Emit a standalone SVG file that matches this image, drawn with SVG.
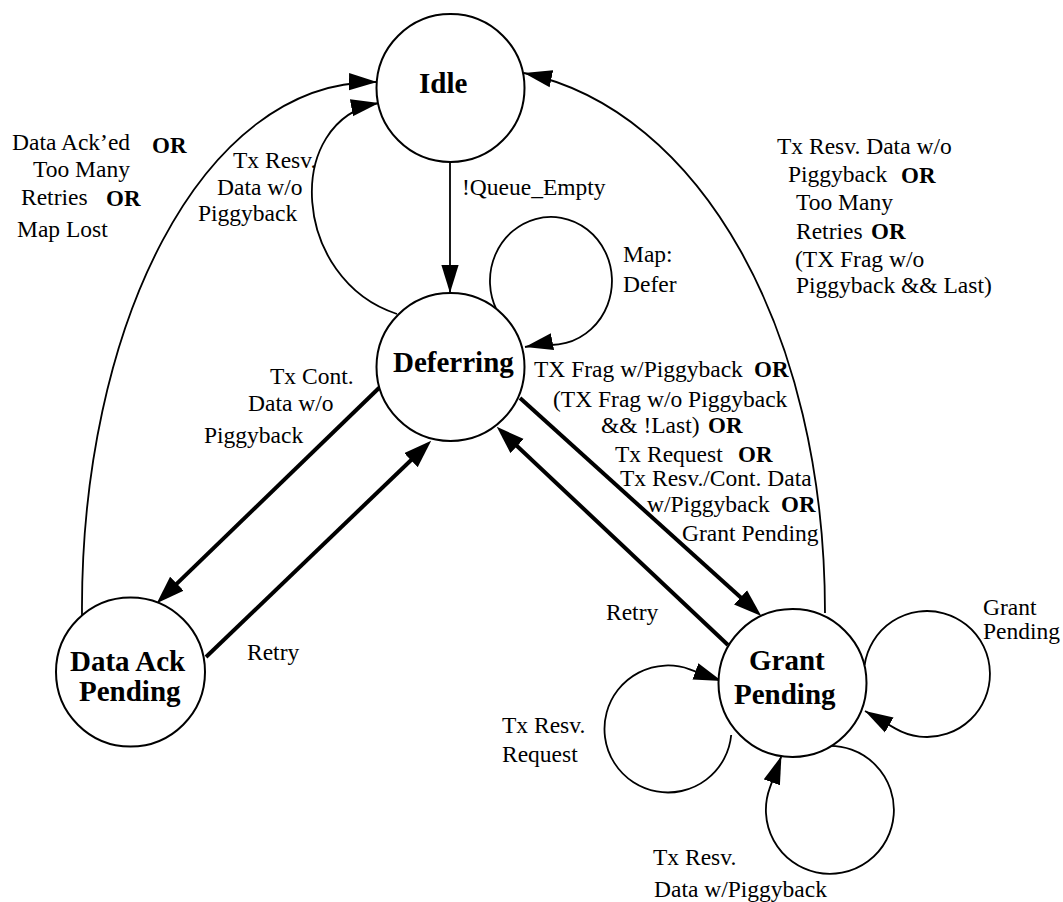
<svg xmlns="http://www.w3.org/2000/svg" width="1063" height="902" viewBox="0 0 1063 902">
<style>
.node{fill:#fff;stroke:#000;stroke-width:2}
.nl{font-family:"Liberation Serif","Times New Roman",serif;font-weight:bold;font-size:29px;fill:#000}
.lb{font-family:"Liberation Serif","Times New Roman",serif;font-size:23.5px;fill:#000}
.or{font-weight:bold;font-size:23px}
.thin{fill:none;stroke:#000;stroke-width:1.8;marker-end:url(#arr)}
.thick{fill:none;stroke:#000;stroke-width:4;marker-end:url(#arrT)}
</style>
<defs>
<marker id="arr" markerUnits="userSpaceOnUse" markerWidth="28" markerHeight="18" viewBox="0 0 26 16" refX="26" refY="8" orient="auto"><path d="M0,0 L26,8 L0,16 z" fill="#000"/></marker>
<marker id="arrT" markerUnits="userSpaceOnUse" markerWidth="28" markerHeight="20" viewBox="0 0 26 18" refX="17" refY="9" orient="auto"><path d="M0,0 L26,9 L0,18 z" fill="#000"/></marker>
</defs>
<rect width="1063" height="902" fill="#fff"/>
<g id="connectors">
<path class="thin" d="M82,615 C80,330 200,80 377,82"/>
<path class="thin" d="M397,314 C292,280 282,120 379,103"/>
<path class="thin" d="M825,613 C825,330 700,110 524,73"/>
<path class="thin" d="M450,162 L450,293"/>
<path class="thin" d="M496.6,310 A61,64 0 1 1 540.4,344 L525,347"/>
<path class="thick" d="M380,387 L163.7,596.4"/>
<path class="thick" d="M206,657 L424.2,447.5"/>
<path class="thick" d="M520,398 L754.1,609.6"/>
<path class="thick" d="M728,645 L503.8,433.5"/>
<path class="thin" d="M864.6,665 A63,63 0 1 1 895.5,728.6 L865,711"/>
<path class="thin" d="M731.2,735 A63.5,63.5 0 1 1 689.7,669.3 L721.7,681"/>
<path class="thin" d="M826,746 A64,64 0 1 1 769.9,787.6 L781.4,756"/>
</g>
<g id="idle"><circle class="node" cx="450.5" cy="88" r="74"/><text class="nl" x="419" y="93">Idle</text></g>
<g id="deferring"><circle class="node" cx="450.5" cy="367" r="74"/><text class="nl" x="393" y="372">Deferring</text></g>
<g id="dataackpending"><circle class="node" cx="130.5" cy="672" r="74.5"/><text class="nl" x="70" y="671">Data Ack</text><text class="nl" x="79" y="701">Pending</text></g>
<g id="grantpending"><circle class="node" cx="792.5" cy="683" r="74"/><text class="nl" x="749" y="670">Grant</text><text class="nl" x="734" y="704">Pending</text></g>
<g id="labels" class="lb">
<text x="12" y="150">Data Ack’ed</text><text class="or" x="152" y="153">OR</text>
<text x="33" y="177">Too Many</text>
<text x="21" y="205">Retries</text><text class="or" x="106" y="206">OR</text>
<text x="17" y="237">Map Lost</text>
<text x="233" y="168">Tx Resv.</text>
<text x="217" y="195">Data w/o</text>
<text x="198" y="221">Piggyback</text>
<text x="462" y="195">!Queue_Empty</text>
<text x="623" y="262">Map:</text>
<text x="623" y="292">Defer</text>
<text x="777" y="154">Tx Resv. Data w/o</text>
<text x="788" y="182">Piggyback</text><text class="or" x="901" y="183">OR</text>
<text x="796" y="210">Too Many</text>
<text x="796" y="239">Retries</text><text class="or" x="871" y="239">OR</text>
<text x="795" y="267">(TX Frag w/o</text>
<text x="796" y="293">Piggyback &amp;&amp; Last)</text>
<text x="534" y="377">TX Frag w/Piggyback</text><text class="or" x="754" y="377">OR</text>
<text x="553" y="407">(TX Frag w/o Piggyback</text>
<text x="601" y="433">&amp;&amp; !Last)</text><text class="or" x="708" y="433">OR</text>
<text x="615" y="462">Tx Request</text><text class="or" x="738" y="462">OR</text>
<text x="620" y="486">Tx Resv./Cont. Data</text>
<text x="647" y="512">w/Piggyback</text><text class="or" x="781" y="512">OR</text>
<text x="682" y="541">Grant Pending</text>
<text x="270" y="384">Tx Cont.</text>
<text x="248" y="411">Data w/o</text>
<text x="204" y="443">Piggyback</text>
<text x="247" y="660">Retry</text>
<text x="606" y="620">Retry</text>
<text x="983" y="615">Grant</text>
<text x="983" y="639">Pending</text>
<text x="502" y="733">Tx Resv.</text>
<text x="502" y="762">Request</text>
<text x="653" y="865">Tx Resv.</text>
<text x="654" y="897">Data w/Piggyback</text>
</g>
</svg>
